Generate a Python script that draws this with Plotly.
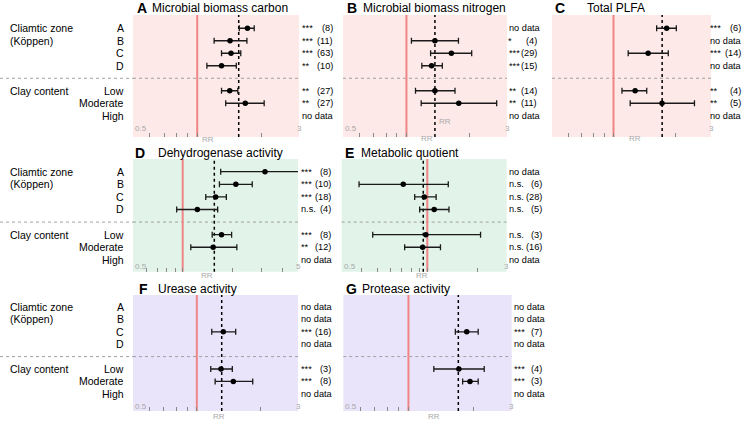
import math
import plotly.graph_objects as go

W, H = 746, 421

# ---------------- data ----------------
categories = ["A", "B", "C", "D", "Low", "Moderate", "High"]
cat_axis = ["A", "B", "C", "D", " ", "Low", "Moderate", "High"]

panel_letters = ["A", "B", "C", "D", "E", "F", "G"]
panel_titles = ["Microbial biomass carbon", "Microbial biomass nitrogen", "Total PLFA",
                "Dehydrogenase activity", "Metabolic quotient", "Urease activity",
                "Protease activity"]

mbc_mean = [1.72, 1.425, 1.44, 1.30, 1.42, 1.68, None]
mbc_lo = [1.575, 1.20, 1.30, 1.11, 1.30, 1.36, None]
mbc_hi = [1.85, 1.71, 1.60, 1.525, 1.55, 2.06, None]
mbc_all = 1.565
mbc_sig = ["***", "***", "***", "**", "**", "**", None]
mbc_n = [8, 11, 63, 10, 27, 27, None]

mbn_mean = [None, 1.365, 1.634, 1.316, 1.365, 1.771, None]
mbn_lo = [None, 1.056, 1.302, 1.183, 1.104, 1.175, None]
mbn_hi = [None, 1.765, 2.04, 1.48, 1.70, 2.68, None]
mbn_all = 1.365
mbn_sig = [None, "*", "***", "***", "**", "**", None]
mbn_n = [None, 4, 29, 15, 14, 11, None]

plfa_mean = [1.82, None, 1.477, None, 1.276, 1.727, None]
plfa_lo = [1.626, None, 1.18, None, 1.10, 1.207, None]
plfa_hi = [2.03, None, 1.854, None, 1.454, 2.49, None]
plfa_all = 1.73
plfa_sig = ["***", None, "***", None, "**", "**", None]
plfa_n = [6, None, 14, None, 4, 5, None]

dha_mean = [3.155, 2.10, 1.585, 1.227, 1.72, 1.53, None]
dha_lo = [1.70, 1.67, 1.38, 0.92, 1.51, 1.12, None]
dha_hi = [5.6, 2.64, 1.84, 1.63, 1.98, 2.13, None]
dha_all = 1.555
dha_sig = ["***", "***", "***", "n.s.", "***", "**", None]
dha_n = [8, 10, 18, 4, 8, 12, None]

qco2_mean = [None, 0.717, 0.959, 1.10, 0.98, 0.938, None]
qco2_lo = [None, 0.389, 0.84, 0.90, 0.47, 0.731, None]
qco2_hi = [None, 1.337, 1.13, 1.35, 2.09, 1.20, None]
qco2_all = 0.946
qco2_sig = [None, "n.s.", "n.s.", "n.s.", "n.s.", "n.s.", None]
qco2_n = [None, 6, 28, 5, 3, 16, None]

ure_mean = [None, None, 1.333, None, 1.30, 1.486, None]
ure_lo = [None, None, 1.176, None, 1.163, 1.22, None]
ure_hi = [None, None, 1.525, None, 1.47, 1.835, None]
ure_all = 1.31
ure_sig = [None, None, "***", None, "***", "***", None]
ure_n = [None, None, 16, None, 3, 8, None]

pro_mean = [None, None, 1.859, None, 1.71, 1.925, None]
pro_lo = [None, None, 1.647, None, 1.31, 1.78, None]
pro_hi = [None, None, 2.10, None, 2.24, 2.10, None]
pro_all = 1.70
pro_sig = [None, None, "***", None, "***", "***", None]
pro_n = [None, None, 7, None, 4, 3, None]

ticks_std = [0.5, 0.6, 0.7, 0.8, 0.9, 1, 2, 3]
ticks_d = [0.5, 0.6, 0.7, 0.8, 0.9, 1, 2, 3, 4, 5]
ticks_e = [0.4, 0.5, 0.6, 0.7, 0.8, 0.9, 1, 2, 3]

# ---------------- layout per panel ----------------
PINK, GREEN, PURPLE = "#FDEAE8", "#E2F3EA", "#E9E4FA"

panels = [
    dict(d=(mbc_mean, mbc_lo, mbc_hi, mbc_all, mbc_sig, mbc_n), xd=(133, 299), yd=(15, 137),
         xr=(0.5, 3), yr=(8.7, -1.06), tv=ticks_std, bg=PINK, lr=("0.5", "3"), ly=128,
         tx=(301, 334), ty=8, lx=(135, 150), col1=True, rr=[(208, 139)]),
    dict(d=(mbn_mean, mbn_lo, mbn_hi, mbn_all, mbn_sig, mbn_n), xd=(343, 507), yd=(15, 137),
         xr=(0.5, 3), yr=(8.7, -1.06), tv=ticks_std, bg=PINK, lr=("0.5", "3"), ly=128,
         tx=(507.5, 538), ty=8, lx=(345, 361), col1=False, rr=[(445, 121), (427, 138)]),
    dict(d=(plfa_mean, plfa_lo, plfa_hi, plfa_all, plfa_sig, plfa_n), xd=(552, 711), yd=(15, 137),
         xr=(0.5, 3), yr=(8.7, -1.06), tv=ticks_std, bg=PINK, lr=("", "3"), ly=128,
         tx=(709, 742), ty=8, lx=(553, 585), col1=False, rr=[(635, 138)]),
    dict(d=(dha_mean, dha_lo, dha_hi, dha_all, dha_sig, dha_n), xd=(133, 298), yd=(159, 271.7),
         xr=(0.5, 5), yr=(7.94, -1.01), tv=ticks_d, bg=GREEN, lr=("0.5", "5"), ly=266,
         tx=(300, 332), ty=152.5, lx=(133, 156), col1=True, rr=[(207, 275)]),
    dict(d=(qco2_mean, qco2_lo, qco2_hi, qco2_all, qco2_sig, qco2_n), xd=(341.7, 506.7), yd=(159, 271.7),
         xr=(0.306, 3), yr=(7.94, -1.01), tv=ticks_e, bg=GREEN, lr=("0.5", "3"), ly=266,
         tx=(508, 543), ty=152.5, lx=(342.5, 359), col1=False, rr=[(422, 275)]),
    dict(d=(ure_mean, ure_lo, ure_hi, ure_all, ure_sig, ure_n), xd=(133, 298), yd=(295, 411),
         xr=(0.5, 3), yr=(8.39, -0.97), tv=ticks_std, bg=PURPLE, lr=("0.5", "3"), ly=406,
         tx=(299.5, 332), ty=289, lx=(137, 156), col1=True, rr=[(219, 416)]),
    dict(d=(pro_mean, pro_lo, pro_hi, pro_all, pro_sig, pro_n), xd=(343.3, 511.7), yd=(295, 411),
         xr=(0.5, 3), yr=(8.39, -0.97), tv=ticks_std, bg=PURPLE, lr=("0.5", "3"), ly=406,
         tx=(513, 543), ty=289, lx=(344, 360), col1=False, rr=[(434, 416)]),
]

FONT = "Arial, Liberation Sans, sans-serif"
GRAY = "#a8a8a8"
TXT = 9.2


def xp(px):
    return px / W


def yp(py):
    return 1 - py / H


fig = go.Figure()
shapes, annotations = [], []
layout_axes = {}

for i, p in enumerate(panels):
    k = i + 1
    xa = "x" if k == 1 else f"x{k}"
    ya = "y" if k == 1 else f"y{k}"
    xkey = "xaxis" if k == 1 else f"xaxis{k}"
    ykey = "yaxis" if k == 1 else f"yaxis{k}"
    mean, lo, hi, overall, sig, n = p["d"]

    layout_axes[xkey] = dict(
        type="log", domain=[xp(p["xd"][0]), xp(p["xd"][1])],
        range=[math.log10(p["xr"][0]), math.log10(p["xr"][1])],
        anchor=ya, tickvals=p["tv"], showticklabels=False, ticks="inside",
        ticklen=4, tickwidth=1, tickcolor="#8a8a8a", showgrid=False,
        zeroline=False, showline=False, fixedrange=True)
    layout_axes[ykey] = dict(
        type="category", categoryarray=cat_axis, categoryorder="array",
        domain=[yp(p["yd"][1]), yp(p["yd"][0])], range=list(p["yr"]),
        anchor=xa, showticklabels=False, showgrid=False, zeroline=False,
        showline=False, ticks="", fixedrange=True)

    # background
    shapes.append(dict(type="rect", xref=f"{xa} domain", yref=f"{ya} domain",
                       x0=0, x1=1, y0=0, y1=1, fillcolor=p["bg"], line_width=0,
                       layer="below"))
    # divider
    gap_idx = cat_axis.index(" ")
    shapes.append(dict(type="line", xref=f"{xa} domain", yref=ya, x0=0, x1=1,
                       y0=gap_idx, y1=gap_idx, line=dict(color="#a0a0a0", width=1, dash="dot"),
                       layer="below"))
    if p["col1"]:
        shapes.append(dict(type="line", xref="paper", yref=ya, x0=0, x1=xp(p["xd"][0]),
                           y0=gap_idx, y1=gap_idx,
                           line=dict(color="#a0a0a0", width=1, dash="dot")))
    # reference line RR = 1
    shapes.append(dict(type="line", xref=xa, yref=f"{ya} domain", x0=1, x1=1, y0=0, y1=1,
                       line=dict(color="#F08585", width=2), layer="below"))
    # overall mean
    shapes.append(dict(type="line", xref=xa, yref=f"{ya} domain", x0=overall, x1=overall,
                       y0=0, y1=1, line=dict(color="black", width=1.5, dash="dot"),
                       layer="below"))

    xs, ys, ep, em = [], [], [], []
    for c, m, l, h in zip(categories, mean, lo, hi):
        if m is None:
            continue
        xs.append(m)
        ys.append(c)
        ep.append(h - m)
        em.append(m - l)
    fig.add_trace(go.Scatter(
        x=xs, y=ys, xaxis=xa, yaxis=ya, mode="markers",
        marker=dict(color="black", size=5.5),
        error_x=dict(type="data", symmetric=False, array=ep, arrayminus=em,
                     color="#1a1a1a", thickness=1.3, width=3),
        showlegend=False, hoverinfo="skip"))

    # stats text
    for c, s, nn in zip(categories, sig, n):
        yi = cat_axis.index(c)
        if s is None:
            annotations.append(dict(text="no data", xref="paper", yref=ya,
                                    x=xp(p["tx"][0]), y=yi, xanchor="left", yanchor="middle",
                                    showarrow=False, borderpad=0,
                                    font=dict(size=TXT, color="black", family=FONT)))
        else:
            annotations.append(dict(text=s, xref="paper", yref=ya,
                                    x=xp(p["tx"][0]), y=yi, xanchor="left", yanchor="middle",
                                    showarrow=False, borderpad=0,
                                    font=dict(size=TXT, color="black", family=FONT)))
            annotations.append(dict(text=f"({nn})", xref="paper", yref=ya,
                                    x=xp(p["tx"][1]), y=yi, xanchor="right", yanchor="middle",
                                    showarrow=False, borderpad=0,
                                    font=dict(size=TXT, color="black", family=FONT)))

    # titles
    annotations.append(dict(text=f"<b>{panel_letters[i]}</b>", xref="paper", yref="paper",
                            x=xp(p["lx"][0]), y=yp(p["ty"]), xanchor="left", yanchor="middle",
                            showarrow=False, font=dict(size=14, color="black", family=FONT)))
    annotations.append(dict(text=panel_titles[i], xref="paper", yref="paper",
                            x=xp(p["lx"][1]), y=yp(p["ty"]), xanchor="left", yanchor="middle",
                            showarrow=False, font=dict(size=12, color="black", family=FONT)))

    # axis end labels
    if p["lr"][0]:
        annotations.append(dict(text=p["lr"][0], xref="paper", yref="paper",
                                x=xp(p["xd"][0]), y=yp(p["ly"]), xanchor="left", yanchor="middle",
                                showarrow=False, font=dict(size=8, color=GRAY, family=FONT)))
    annotations.append(dict(text=p["lr"][1], xref="paper", yref="paper",
                            x=xp(p["xd"][1]), y=yp(p["ly"]), xanchor="center", yanchor="middle",
                            showarrow=False, font=dict(size=8, color=GRAY, family=FONT)))
    for (rx, ry) in p["rr"]:
        annotations.append(dict(text="RR", xref="paper", yref="paper",
                                x=xp(rx), y=yp(ry), xanchor="center", yanchor="middle",
                                showarrow=False, font=dict(size=8, color=GRAY, family=FONT)))

    # left labels for first column
    if p["col1"]:
        for c in categories:
            annotations.append(dict(text=c, xref="paper", yref=ya, x=xp(126),
                                    y=cat_axis.index(c), xanchor="right", yanchor="middle",
                                    showarrow=False, font=dict(size=10.5, color="black", family=FONT)))
        annotations.append(dict(text="Cliamtic zone", xref="paper", yref=ya, x=xp(8),
                                y=cat_axis.index("A"), xanchor="left", yanchor="middle",
                                showarrow=False, font=dict(size=10.5, color="black", family=FONT)))
        annotations.append(dict(text="(Köppen)", xref="paper", yref=ya, x=xp(8),
                                y=cat_axis.index("B"), xanchor="left", yanchor="middle",
                                showarrow=False, font=dict(size=10.5, color="black", family=FONT)))
        annotations.append(dict(text="Clay content", xref="paper", yref=ya, x=xp(8),
                                y=cat_axis.index("Low"), xanchor="left", yanchor="middle",
                                showarrow=False, font=dict(size=10.5, color="black", family=FONT)))

fig.update_layout(
    width=W, height=H, margin=dict(l=0, r=0, t=0, b=0),
    paper_bgcolor="white", plot_bgcolor="rgba(0,0,0,0)",
    shapes=shapes, annotations=annotations, showlegend=False,
    font=dict(family=FONT), **layout_axes)

fig.write_html("out.html", config={"displayModeBar": False},
               post_script="document.body.style.margin='0';document.body.style.overflow='hidden';")
